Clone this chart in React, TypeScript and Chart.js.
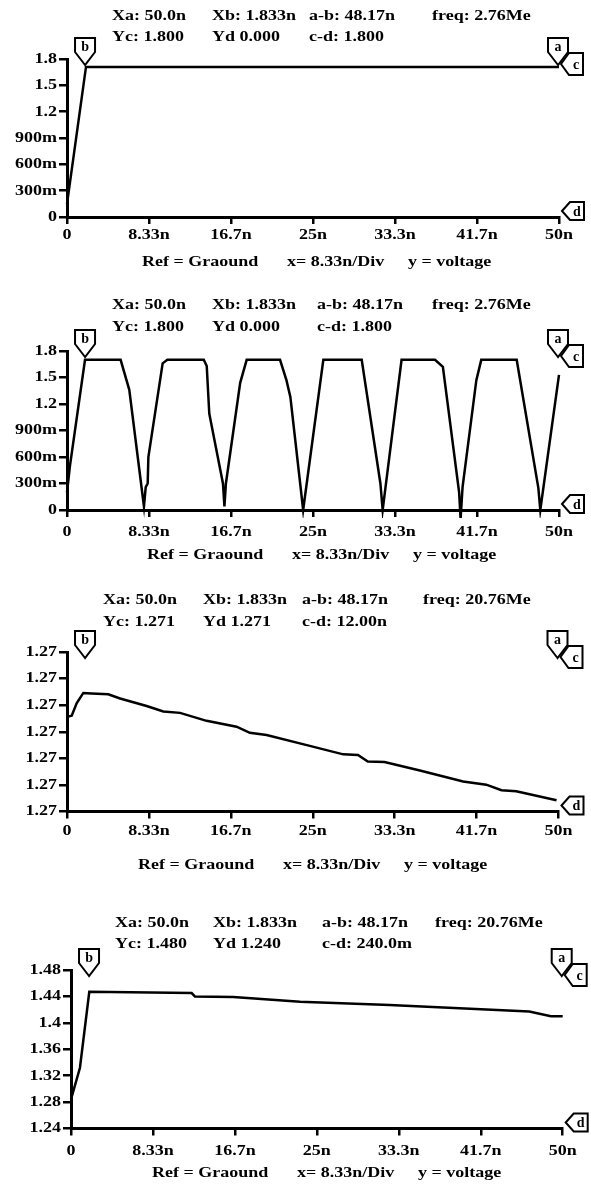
import React, { useEffect, useRef } from "react";
import { Chart, registerables } from "chart.js";

Chart.register(...registerables);

// ---- shared x axis (time, ns) ----
const xTickValues = [0, 8.333, 16.667, 25, 33.333, 41.667, 50];
const xTickLabels = ["0", "8.33n", "16.7n", "25n", "33.3n", "41.7n", "50n"];

// ---- y axis ticks ----
const voltTicksA = [0, 0.3, 0.6, 0.9, 1.2, 1.5, 1.8];
const voltLabelsA = ["0", "300m", "600m", "900m", "1.2", "1.5", "1.8"];
const voltTicksC = [1.2706, 1.2707, 1.2708, 1.2709, 1.271, 1.2711, 1.2712];
const voltLabelsC = ["1.27", "1.27", "1.27", "1.27", "1.27", "1.27", "1.27"];
const voltTicksD = [1.24, 1.28, 1.32, 1.36, 1.4, 1.44, 1.48];
const voltLabelsD = ["1.24", "1.28", "1.32", "1.36", "1.4", "1.44", "1.48"];

// ---- series ----
const p1Time = [0, 1.93, 50];
const p1Volt = [0.15, 1.71, 1.71];

const p2Time = [0, 0.3, 1.83, 5.45, 6.33, 7.82, 8.0, 8.2, 8.27, 9.72, 10.2, 13.9, 14.2, 14.46, 15.85, 16.0, 16.15, 17.6, 18.26, 21.65, 22.3, 22.7, 24.0, 26.05, 29.95, 31.85, 32.08, 34.0, 37.4, 38.2, 39.85, 40.0, 40.2, 41.6, 42.1, 45.7, 47.9, 48.1, 50.0];
const p2Volt = [0.2, 0.5, 1.7, 1.7, 1.36, 0.04, 0.26, 0.3, 0.6, 1.66, 1.7, 1.7, 1.63, 1.09, 0.3, 0.04, 0.3, 1.44, 1.7, 1.7, 1.47, 1.28, 0.0, 1.7, 1.7, 0.3, 0.0, 1.7, 1.7, 1.62, 0.2, -0.1, 0.26, 1.47, 1.7, 1.7, 0.25, 0.0, 1.53];

const p3Time = [0, 0.48, 0.98, 1.66, 2.5, 4.2, 5.4, 8.1, 9.8, 11.5, 14.2, 17.25, 18.6, 20.3, 24.7, 28.1, 29.6, 30.6, 32.3, 35.9, 40.3, 42.65, 44.2, 45.7, 49.8];
const p3Volt = [1.270956, 1.27096, 1.271007, 1.271046, 1.271044, 1.271041, 1.271025, 1.270997, 1.270976, 1.270971, 1.270941, 1.270919, 1.270896, 1.270888, 1.270847, 1.270815, 1.270813, 1.270788, 1.270786, 1.270754, 1.270713, 1.270701, 1.27068, 1.270676, 1.270642];

const p4Time = [0, 0.91, 1.86, 12.27, 12.6, 16.5, 23.3, 32.4, 46.6, 48.8, 50];
const p4Volt = [1.284, 1.332, 1.447, 1.445, 1.44, 1.439, 1.432, 1.427, 1.417, 1.41, 1.41];

// ---- cursors ----
const cursorXa = 50;
const cursorXb = 1.833;
const cursorYc = [1.8, 1.8, 1.2712, 1.48];
const cursorYd = [0, 0, 1.2706, 1.24];

// ---- readout texts ----
const p1Row1 = ["Xa: 50.0n", "Xb: 1.833n", "a-b: 48.17n", "freq: 2.76Me"];
const p1Row2 = ["Yc: 1.800", "Yd 0.000", "c-d: 1.800"];
const p2Row1 = ["Xa: 50.0n", "Xb: 1.833n", "a-b: 48.17n", "freq: 2.76Me"];
const p2Row2 = ["Yc: 1.800", "Yd 0.000", "c-d: 1.800"];
const p3Row1 = ["Xa: 50.0n", "Xb: 1.833n", "a-b: 48.17n", "freq: 20.76Me"];
const p3Row2 = ["Yc: 1.271", "Yd 1.271", "c-d: 12.00n"];
const p4Row1 = ["Xa: 50.0n", "Xb: 1.833n", "a-b: 48.17n", "freq: 20.76Me"];
const p4Row2 = ["Yc: 1.480", "Yd 1.240", "c-d: 240.0m"];
const footerParts = ["Ref = Graound", "x= 8.33n/Div", "y = voltage"];

const FONT = 'bold 15px "Liberation Serif", "Times New Roman", serif';
const STRETCH = 1.2;

type PanelCfg = {
  time: number[]; volt: number[];
  yTicks: number[]; yLabels: string[]; yMin: number; yMax: number;
  row1: string[]; row2: string[];
  yc: number; yd: number;
  y0: number; y1: number; left: number; right: number; top: number; bottom: number;
  h1: number; h2: number; cols: number[]; xLabelY: number; footY: number; footX: number;
};

const panels: PanelCfg[] = [
  { time: p1Time, volt: p1Volt, yTicks: voltTicksA, yLabels: voltLabelsA, yMin: 0, yMax: 1.8,
    row1: p1Row1, row2: p1Row2, yc: cursorYc[0], yd: cursorYd[0],
    y0: 0, y1: 283, left: 67, right: 559, top: 59, bottom: 217,
    h1: 16, h2: 37.5, cols: [112, 212, 309, 432], xLabelY: 235, footY: 262, footX: 142 },
  { time: p2Time, volt: p2Volt, yTicks: voltTicksA, yLabels: voltLabelsA, yMin: 0, yMax: 1.8,
    row1: p2Row1, row2: p2Row2, yc: cursorYc[1], yd: cursorYd[1],
    y0: 283, y1: 583, left: 67, right: 559, top: 351, bottom: 510,
    h1: 305, h2: 327, cols: [112, 212, 317, 432], xLabelY: 532, footY: 555, footX: 147 },
  { time: p3Time, volt: p3Volt, yTicks: voltTicksC, yLabels: voltLabelsC, yMin: 1.2706, yMax: 1.2712,
    row1: p3Row1, row2: p3Row2, yc: cursorYc[2], yd: cursorYd[2],
    y0: 583, y1: 888, left: 67, right: 558.5, top: 652, bottom: 811.5,
    h1: 600, h2: 622.5, cols: [103, 203, 302, 423], xLabelY: 831.5, footY: 865, footX: 138 },
  { time: p4Time, volt: p4Volt, yTicks: voltTicksD, yLabels: voltLabelsD, yMin: 1.24, yMax: 1.48,
    row1: p4Row1, row2: p4Row2, yc: cursorYc[3], yd: cursorYd[3],
    y0: 888, y1: 1184, left: 71, right: 562.7, top: 970, bottom: 1128.5,
    h1: 923.5, h2: 944.5, cols: [115, 213, 322, 435], xLabelY: 1151, footY: 1173, footX: 152 },
];

function txt(ctx: CanvasRenderingContext2D, s: string, x: number, y: number, align: CanvasTextAlign) {
  ctx.save();
  ctx.translate(x, y);
  ctx.scale(STRETCH, 1);
  ctx.font = FONT;
  ctx.textAlign = align;
  ctx.textBaseline = "middle";
  ctx.fillStyle = "#000";
  ctx.fillText(s, 0, 0);
  ctx.restore();
}

function marker(ctx: CanvasRenderingContext2D, pts: number[][], label: string, lx: number, ly: number) {
  ctx.save();
  ctx.beginPath();
  pts.forEach(([x, y], i) => (i ? ctx.lineTo(x, y) : ctx.moveTo(x, y)));
  ctx.closePath();
  ctx.fillStyle = "#fff";
  ctx.fill();
  ctx.lineWidth = 2;
  ctx.strokeStyle = "#000";
  ctx.lineJoin = "miter";
  ctx.stroke();
  ctx.fillStyle = "#000";
  ctx.font = 'bold 14px "Liberation Serif", serif';
  ctx.textAlign = "center";
  ctx.textBaseline = "middle";
  ctx.fillText(label, lx, ly + 1);
  ctx.restore();
}

function downMarker(ctx: CanvasRenderingContext2D, tx: number, ty: number, label: string) {
  marker(ctx, [[tx, ty], [tx - 10, ty - 13], [tx - 10, ty - 27], [tx + 10, ty - 27], [tx + 10, ty - 13]], label, tx, ty - 19);
}
function leftMarker(ctx: CanvasRenderingContext2D, tx: number, ty: number, label: string, h: number) {
  marker(ctx, [[tx, ty], [tx + 8, ty - h], [tx + 22, ty - h], [tx + 22, ty + h], [tx + 8, ty + h]], label, tx + 15, ty);
}

function Panel({ cfg }: { cfg: PanelCfg }) {
  const ref = useRef<HTMLCanvasElement>(null);
  const H = cfg.y1 - cfg.y0;
  useEffect(() => {
    const overlay = {
      id: "overlay",
      afterDraw(chart: any) {
        const ctx: CanvasRenderingContext2D = chart.ctx;
        const xs = chart.scales.x;
        const ys = chart.scales.y;
        const area = chart.chartArea;
        const o = cfg.y0;
        cfg.row1.forEach((s, i) => txt(ctx, s, cfg.cols[i], cfg.h1 - o, "left"));
        cfg.row2.forEach((s, i) => txt(ctx, s, cfg.cols[i], cfg.h2 - o, "left"));
        xs.ticks.forEach((t: any, i: number) =>
          txt(ctx, xTickLabels[i], xs.getPixelForValue(t.value), cfg.xLabelY - o, "center"));
        ys.ticks.forEach((t: any, i: number) =>
          txt(ctx, cfg.yLabels[i], area.left - 10, ys.getPixelForValue(t.value), "right"));
        txt(ctx, footerParts[0], cfg.footX, cfg.footY - o, "left");
        txt(ctx, footerParts[1], cfg.footX + 145, cfg.footY - o, "left");
        txt(ctx, footerParts[2], cfg.footX + 266, cfg.footY - o, "left");
        const xa = xs.getPixelForValue(cursorXa);
        const xb = xs.getPixelForValue(cursorXb);
        downMarker(ctx, xb, area.top + 6, "b");
        downMarker(ctx, xa - 1, area.top + 6, "a");
        leftMarker(ctx, xa + 2, ys.getPixelForValue(cfg.yc) + 5, "c", 11);
        leftMarker(ctx, xa + 3, ys.getPixelForValue(cfg.yd) - 6, "d", 9);
      },
    };
    const chart = new Chart(ref.current as HTMLCanvasElement, {
      type: "line",
      data: {
        datasets: [
          {
            data: cfg.time.map((t, i) => ({ x: t, y: cfg.volt[i] })),
            borderColor: "#000",
            borderWidth: 2.5,
            pointRadius: 0,
            tension: 0,
            fill: false,
            clip: 8,
          } as any,
        ],
      },
      options: {
        animation: false,
        responsive: false,
        devicePixelRatio: 1,
        events: [],
        layout: { padding: { left: 0, right: 591 - cfg.right, top: cfg.top - cfg.y0, bottom: 0 } },
        plugins: { legend: { display: false }, tooltip: { enabled: false } },
        scales: {
          x: {
            type: "linear",
            min: 0,
            max: 50,
            afterBuildTicks: (s: any) => { s.ticks = xTickValues.map((v) => ({ value: v })); },
            afterFit: (s: any) => { s.height = cfg.y1 - cfg.bottom; },
            ticks: { display: false },
            grid: { display: true, drawOnChartArea: false, drawTicks: true, tickLength: 7, color: "#000", lineWidth: 2.5 },
            border: { display: true, color: "#000", width: 3 },
          },
          y: {
            type: "linear",
            min: cfg.yMin,
            max: cfg.yMax,
            afterBuildTicks: (s: any) => { s.ticks = cfg.yTicks.map((v) => ({ value: v })); },
            afterFit: (s: any) => { s.width = cfg.left; },
            ticks: { display: false },
            grid: { display: true, drawOnChartArea: false, drawTicks: true, tickLength: 8, color: "#000", lineWidth: 2.5 },
            border: { display: true, color: "#000", width: 3 },
          },
        },
      } as any,
      plugins: [overlay],
    });
    return () => chart.destroy();
  }, []);
  return (
    <canvas
      ref={ref}
      width={591}
      height={H}
      style={{ position: "absolute", left: 0, top: cfg.y0, width: 591, height: H }}
    />
  );
}

export default function App() {
  return (
    <div style={{ position: "absolute", left: 0, top: 0, width: 591, height: 1184, background: "#fff" }}>
      {panels.map((p, i) => (
        <Panel key={i} cfg={p} />
      ))}
    </div>
  );
}
